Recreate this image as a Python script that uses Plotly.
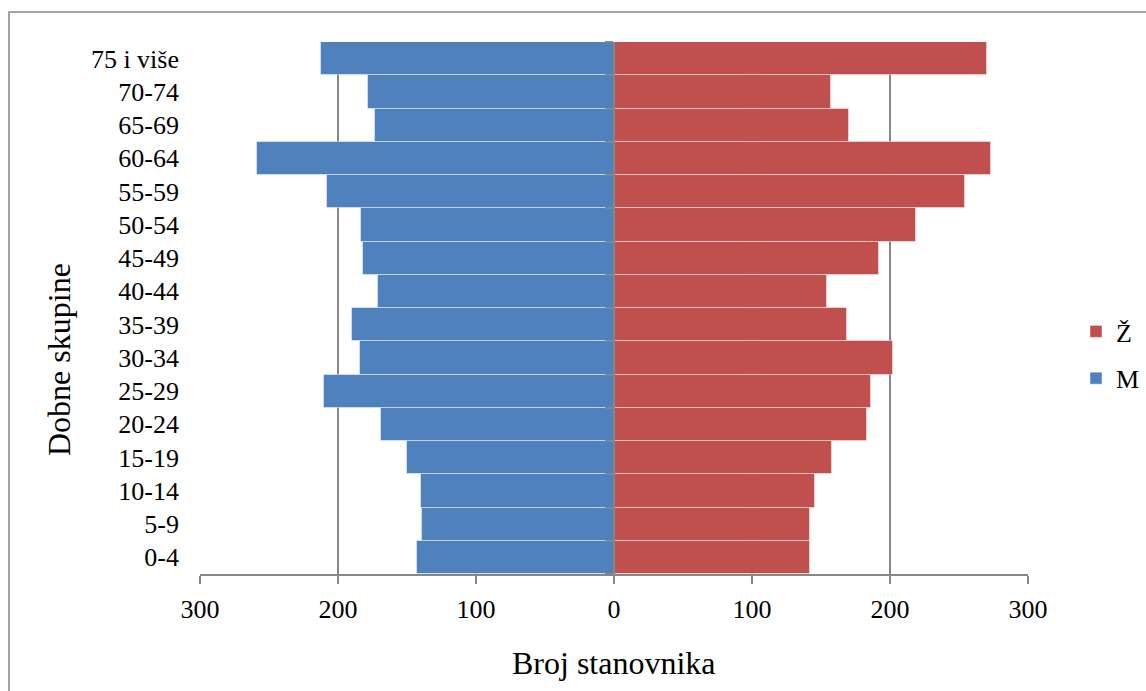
import plotly.graph_objects as go

categories = ["0-4", "5-9", "10-14", "15-19", "20-24", "25-29", "30-34", "35-39",
              "40-44", "45-49", "50-54", "55-59", "60-64", "65-69", "70-74", "75 i više"]
male = [143, 139, 140, 150, 169, 210, 184, 190, 171, 182, 183, 208, 259, 173, 178, 212]
female = [142, 142, 146, 158, 183, 186, 202, 169, 154, 192, 219, 254, 273, 170, 157, 270]
x_ticks = [-300, -200, -100, 0, 100, 200, 300]
x_tick_labels = ["300", "200", "100", "0", "100", "200", "300"]

BLUE = "#4F81BD"
RED = "#C0504D"
GRAY = "#868686"
FONT = "Liberation Serif"

fig = go.Figure()
fig.add_trace(go.Bar(
    y=categories, x=female, orientation="h", name="Ž", legendgroup="z",
    marker=dict(color=RED, line=dict(color="rgba(255,255,255,0.45)", width=1)),
    yaxis="y",
))
fig.add_trace(go.Bar(
    y=categories, x=[-v for v in male], orientation="h", name="M", legendgroup="m",
    marker=dict(color=BLUE, line=dict(color="rgba(255,255,255,0.45)", width=1)),
    yaxis="y2",
    customdata=male, hovertemplate="%{y}: %{customdata}<extra>M</extra>",
))

W, H = 1146, 691
L, R, T, B = 200, 118, 42, 117
pw, ph = W - L - R, H - T - B

def px(xp):
    return (xp - L) / pw

def py(yp):
    return (H - B - yp) / ph

fig.update_layout(
    width=W, height=H, autosize=False,
    margin=dict(l=L, r=R, t=T, b=B, autoexpand=False),
    paper_bgcolor="white", plot_bgcolor="white",
    font=dict(family=FONT, size=26, color="black"),
    bargap=0,
    barmode="overlay",
    xaxis=dict(
        range=[-300, 300], tickmode="array", tickvals=x_ticks, ticktext=x_tick_labels,
        showgrid=True, gridcolor=GRAY, gridwidth=1.5,
        showline=True, linecolor=GRAY, linewidth=2,
        ticks="outside", ticklen=8, tickcolor=GRAY, tickwidth=2,
        zeroline=False, ticklabelstandoff=3,
        tickfont=dict(family=FONT, size=26, color="black"),
    ),
    yaxis=dict(
        type="category", categoryorder="array", categoryarray=categories,
        showgrid=False, zeroline=False, showline=False, ticks="",
        ticklabelstandoff=20,
        tickfont=dict(family=FONT, size=26, color="black"),
    ),
    yaxis2=dict(
        type="category", categoryorder="array", categoryarray=categories,
        matches="y", overlaying="y", anchor="free", position=0.5,
        showgrid=False, zeroline=False, showticklabels=False,
        showline=True, linecolor=GRAY, linewidth=2,
        ticks="outside", tickson="boundaries", ticklen=8, tickcolor=GRAY, tickwidth=2,
    ),
    legend=dict(
        x=px(1076), xanchor="left", y=py(355), yanchor="middle",
        traceorder="grouped", tracegroupgap=10,
        font=dict(family=FONT, size=26, color="black"),
        bgcolor="rgba(0,0,0,0)",
    ),
    showlegend=True,
)

fig.add_annotation(
    text="Dobne skupine", textangle=-90, showarrow=False,
    xref="paper", yref="paper", x=px(59), y=py(360),
    xanchor="center", yanchor="middle",
    font=dict(family=FONT, size=32, color="black"),
)
fig.add_annotation(
    text="Broj stanovnika", showarrow=False,
    xref="paper", yref="paper", x=0.5, y=py(663),
    xanchor="center", yanchor="middle",
    font=dict(family=FONT, size=32, color="black"),
)

fig.add_shape(
    type="rect", xref="paper", yref="paper",
    x0=px(9), x1=px(1150), y0=py(695), y1=py(12),
    line=dict(color=GRAY, width=1.5), fillcolor="rgba(0,0,0,0)", layer="below",
)

fig.write_html(
    "out.html",
    config={"displayModeBar": False, "responsive": False},
    post_script=(
        "document.documentElement.style.overflow='hidden';"
        "document.body.style.overflow='hidden';"
        "document.body.style.margin='0';document.body.style.padding='0';"
    ),
)
